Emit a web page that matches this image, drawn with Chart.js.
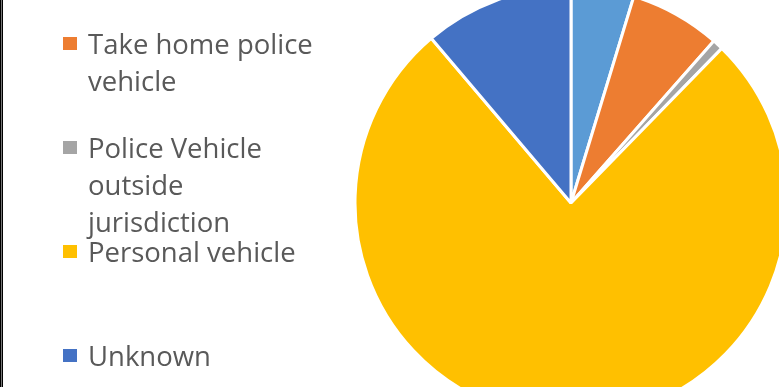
<html lang="en">
  <head>
    <title>Vehicle type pie</title>
    <script type="text/javascript" src="https://cdn.jsdelivr.net/npm/chart.js"></script>
    <style>
      body { margin: 0; width: 779px; height: 387px; overflow: hidden; position: relative; background: #fff; }
      #edge { position: absolute; left: 0; top: 0; width: 3px; height: 387px;
              background: linear-gradient(to right, #000 0 1px, #777 1px 2px, #000 2px 3px); z-index: 2; }
      #myChart { position: absolute; left: 0; top: 0; }
      .item { position: absolute; left: 63px; font-family: "Open Sans", sans-serif; font-size: 27.5px;
              line-height: 37px; color: #595959; }
      .item .box { position: absolute; left: 0; top: 12px; width: 14px; height: 13px; }
      .item .txt { position: absolute; left: 25px; top: 0; white-space: nowrap; }
    </style>
  </head>
  <body>
    <div id="edge"></div>
    <canvas id="myChart" width="779" height="387"></canvas>
    <div id="legend"></div>

    <script>
      const labels = ['Police vehicle', 'Take home police vehicle', 'Police Vehicle outside jurisdiction', 'Personal vehicle', 'Unknown']
      // lines as wrapped in the legend
      const legendLines = [['Police vehicle'], ['Take home police', 'vehicle'], ['Police Vehicle', 'outside', 'jurisdiction'], ['Personal vehicle'], ['Unknown']]
      const shares = [4.7, 6.8, 0.8, 76.5, 11.2]
      const colors = ['#5B9BD5', '#ED7D31', '#A5A5A5', '#FFC000', '#4472C4']

      // legend rows, about 104px apart (first one is cut off above)
      const legend = document.getElementById('legend')
      labels.forEach((l, i) => {
        const div = document.createElement('div')
        div.className = 'item'
        div.style.top = (-79 + i * 104) + 'px'
        div.innerHTML = '<span class="box" style="background:' + colors[i] + '"></span><span class="txt">' + legendLines[i].join('<br>') + '</span>'
        legend.appendChild(div)
      })

      const ctx = document.getElementById('myChart').getContext('2d')

      new Chart(ctx, {
        type: 'pie',
        data: {
          labels: labels,
          datasets: [{
            data: shares,
            backgroundColor: colors,
            borderColor: '#ffffff',
            borderWidth: 3,
          }]
        },
        options: {
          responsive: false,
          animation: false,
          radius: 216,
          layout: { padding: { left: 363, right: 0, top: 19, bottom: 0 } },
          plugins: {
            legend: { display: false },
            tooltip: { enabled: false },
          },
        }
      })
    </script>
  </body>
</html>
